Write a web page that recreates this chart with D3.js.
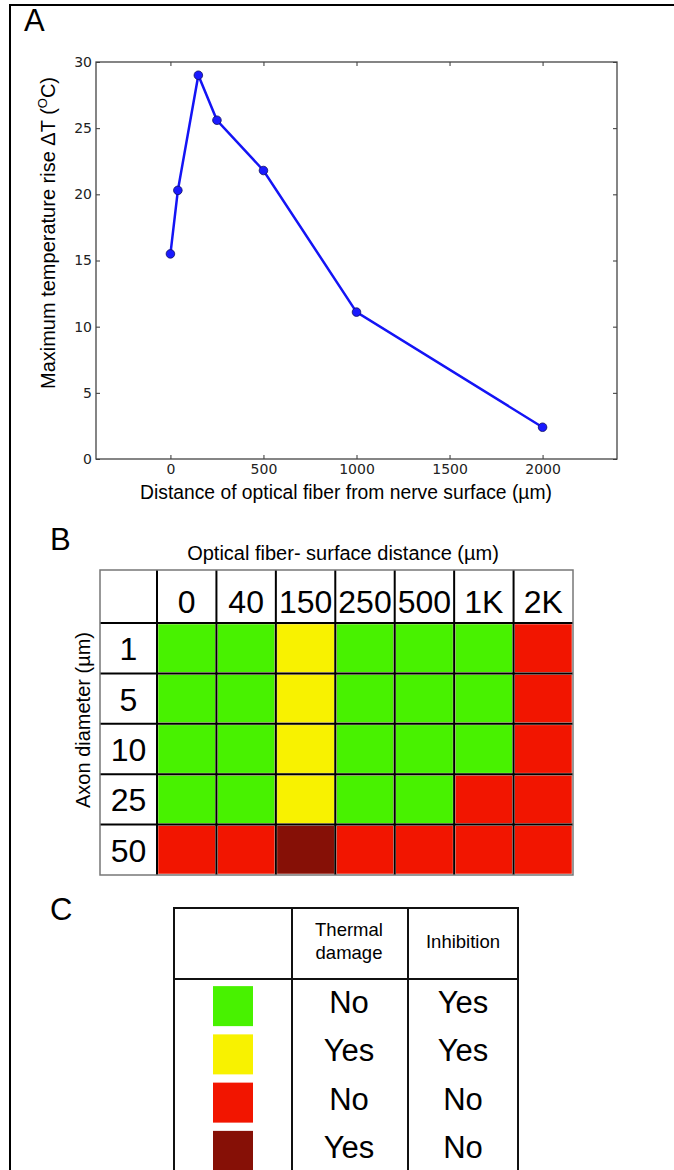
<!DOCTYPE html>
<html>
<head>
<meta charset="utf-8">
<script src="https://cdn.jsdelivr.net/npm/d3@7"></script>
<style>
  body { margin: 0; background: #fff; }
  svg { display: block; }
  .sans { font-family: "Liberation Sans", Arial, sans-serif; }
</style>
</head>
<body>
<svg id="fig" width="674" height="1170"></svg>
<script>
// panel A data
const distances = [0, 40, 150, 250, 500, 1000, 2000];
const tempRise = [15.5, 20.3, 29.0, 25.6, 21.8, 11.1, 2.4];
const xTicks = [0, 500, 1000, 1500, 2000];
const yTicks = [0, 5, 10, 15, 20, 25, 30];

// panel B data
const distLabels = ['0', '40', '150', '250', '500', '1K', '2K'];
const axonDiameters = ['1', '5', '10', '25', '50'];
// g = inhibition only, y = inhibition + damage, r = nothing, d = damage only
const outcomes = [
  ['g', 'g', 'y', 'g', 'g', 'g', 'r'],
  ['g', 'g', 'y', 'g', 'g', 'g', 'r'],
  ['g', 'g', 'y', 'g', 'g', 'g', 'r'],
  ['g', 'g', 'y', 'g', 'g', 'r', 'r'],
  ['r', 'r', 'd', 'r', 'r', 'r', 'r'],
];

// panel C data
const legendKeys = ['g', 'y', 'r', 'd'];
const thermalDamage = ['No', 'Yes', 'No', 'Yes'];
const inhibition = ['Yes', 'Yes', 'No', 'No'];

const fill = d3.scaleOrdinal()
  .domain(['g', 'y', 'r', 'd'])
  .range(['#48f200', '#f8f200', '#f21500', '#861006']);

const svg = d3.select('#fig');

// outer frame
svg.append('path')
  .attr('d', 'M10,1170 V5 H674')
  .attr('fill', 'none')
  .attr('stroke', '#000')
  .attr('stroke-width', 2);

const letter = (t, x, y) => svg.append('text')
  .attr('class', 'sans')
  .attr('x', x).attr('y', y)
  .attr('font-size', 31)
  .text(t);

// ---------- A ----------
letter('A', 24, 31);

const x = d3.scaleLinear().domain([-400, 2400]).range([96, 617]);
const y = d3.scaleLinear().domain([0, 30]).range([459, 62]);

const axisStyle = g => {
  g.attr('font-size', null).attr('font-family', null);
  g.select('.domain').remove();
  g.selectAll('.tick line').attr('stroke', '#333');
  g.selectAll('.tick text')
    .style('font-family', '"DejaVu Sans", sans-serif')
    .style('font-size', '14px')
    .attr('fill', '#222');
};

svg.append('g').attr('transform', 'translate(0,459)')
  .call(d3.axisBottom(x).tickValues(xTicks).tickSize(-4).tickPadding(5).tickFormat(d3.format('d')))
  .call(axisStyle);
svg.append('g').attr('transform', 'translate(0,62)')
  .call(d3.axisTop(x).tickValues(xTicks).tickSize(-4).tickFormat(''))
  .call(axisStyle);
svg.append('g').attr('transform', 'translate(96,0)')
  .call(d3.axisLeft(y).tickValues(yTicks).tickSize(-4).tickPadding(4))
  .call(axisStyle);
svg.append('g').attr('transform', 'translate(617,0)')
  .call(d3.axisRight(y).tickValues(yTicks).tickSize(-4).tickFormat(''))
  .call(axisStyle);

svg.append('rect')
  .attr('x', x.range()[0]).attr('y', y.range()[1])
  .attr('width', x.range()[1] - x.range()[0])
  .attr('height', y.range()[0] - y.range()[1])
  .attr('fill', 'none')
  .attr('stroke', '#444')
  .attr('stroke-width', 1.3);

const pts = distances.map((d, i) => [d, tempRise[i]]);
svg.append('path')
  .datum(pts)
  .attr('d', d3.line().x(d => x(d[0])).y(d => y(d[1])))
  .attr('fill', 'none')
  .attr('stroke', '#1414f5')
  .attr('stroke-width', 2.5);
svg.selectAll('.pt').data(pts).join('circle')
  .attr('class', 'pt')
  .attr('cx', d => x(d[0])).attr('cy', d => y(d[1]))
  .attr('r', 4.3)
  .attr('fill', '#1a1aff')
  .attr('stroke', '#101060')
  .attr('stroke-width', 0.8);

svg.append('text')
  .attr('class', 'sans')
  .attr('x', 346).attr('y', 499)
  .attr('text-anchor', 'middle')
  .attr('font-size', 19.3)
  .text('Distance of optical fiber from nerve surface (\u00b5m)');

const yl = svg.append('text')
  .attr('class', 'sans')
  .attr('transform', 'translate(55,233) rotate(-90)')
  .attr('text-anchor', 'middle')
  .attr('font-size', 20);
yl.append('tspan').text('Maximum temperature rise \u0394T (');
yl.append('tspan').attr('font-size', 13).attr('dy', -8).text('O');
yl.append('tspan').attr('dy', 8).text('C)');

// ---------- B ----------
letter('B', 50, 550);

svg.append('text')
  .attr('class', 'sans')
  .attr('x', 343).attr('y', 560)
  .attr('text-anchor', 'middle')
  .attr('font-size', 20)
  .text('Optical fiber- surface distance (\u00b5m)');

svg.append('text')
  .attr('class', 'sans')
  .attr('transform', 'translate(90,720) rotate(-90)')
  .attr('text-anchor', 'middle')
  .attr('font-size', 20)
  .text('Axon diameter (\u00b5m)');

const gridL = 100, gridT = 570, headW = 57, headH = 53;
const col = d3.scaleBand().domain(distLabels).range([gridL + headW, 573]);
const row = d3.scaleBand().domain(axonDiameters).range([gridT + headH, 875]);

const cells = outcomes.flatMap((r, i) => r.map((c, j) => ({
  d: axonDiameters[i], dist: distLabels[j], c,
})));
svg.selectAll('.cell').data(cells).join('rect')
  .attr('class', 'cell')
  .attr('x', d => col(d.dist) + 1).attr('y', d => row(d.d) + 1)
  .attr('width', col.bandwidth() - 2).attr('height', row.bandwidth() - 2)
  .attr('fill', d => fill(d.c))
  .attr('stroke', '#f6d0c8')
  .attr('stroke-width', 0.6);

svg.selectAll('.colLab').data(distLabels).join('text')
  .attr('class', 'sans colLab')
  .attr('x', d => col(d) + col.bandwidth() / 2)
  .attr('y', gridT + 43)
  .attr('text-anchor', 'middle')
  .attr('font-size', 32)
  .text(d => d);

svg.selectAll('.rowLab').data(axonDiameters).join('text')
  .attr('class', 'sans rowLab')
  .attr('x', gridL + headW / 2)
  .attr('y', d => row(d) + row.bandwidth() / 2 + 12)
  .attr('text-anchor', 'middle')
  .attr('font-size', 32)
  .text(d => d);

// grid lines
const colEdges = distLabels.map(d => col(d));
svg.selectAll('.vline').data(colEdges).join('line')
  .attr('class', 'vline')
  .attr('x1', d => d).attr('x2', d => d)
  .attr('y1', gridT).attr('y2', 875)
  .attr('stroke', '#000').attr('stroke-width', 2);
const rowEdges = axonDiameters.map(d => row(d));
svg.selectAll('.hline').data(rowEdges).join('line')
  .attr('class', 'hline')
  .attr('x1', gridL).attr('x2', 573)
  .attr('y1', d => d).attr('y2', d => d)
  .attr('stroke', '#000').attr('stroke-width', 2);
svg.append('rect')
  .attr('x', gridL).attr('y', gridT)
  .attr('width', 573 - gridL).attr('height', 875 - gridT)
  .attr('fill', 'none')
  .attr('stroke', '#777').attr('stroke-width', 1.5);

// ---------- C ----------
letter('C', 50, 920);

const legL = 174, legT = 908, legR = 518, legHead = 979;
const legCols = [legL, 292, 408, legR];
const legRow = d3.scaleBand().domain(legendKeys).range([legHead + 3, 1175]);

svg.selectAll('.sw').data(legendKeys).join('rect')
  .attr('class', 'sw')
  .attr('x', 213).attr('y', d => legRow(d) + (legRow.bandwidth() - 40) / 2)
  .attr('width', 40).attr('height', 40)
  .attr('fill', d => fill(d));

const cellText = (vals, cx) => svg.selectAll(null).data(vals).join('text')
  .attr('class', 'sans')
  .attr('x', cx)
  .attr('y', (d, i) => legRow(legendKeys[i]) + legRow.bandwidth() / 2 + 7)
  .attr('text-anchor', 'middle')
  .attr('font-size', 31)
  .text(d => d);
cellText(thermalDamage, 349);
cellText(inhibition, 463);

svg.append('text')
  .attr('class', 'sans')
  .attr('x', 349).attr('text-anchor', 'middle').attr('font-size', 18.5)
  .selectAll('tspan').data(['Thermal', 'damage']).join('tspan')
  .attr('x', 349).attr('y', (d, i) => 936 + i * 23)
  .text(d => d);
svg.append('text')
  .attr('class', 'sans')
  .attr('x', 463).attr('y', 948)
  .attr('text-anchor', 'middle').attr('font-size', 18.5)
  .text('Inhibition');

svg.selectAll('.lv').data(legCols).join('line')
  .attr('class', 'lv')
  .attr('x1', d => d).attr('x2', d => d)
  .attr('y1', legT - 1).attr('y2', 1172)
  .attr('stroke', '#111').attr('stroke-width', 2);
svg.selectAll('.lh').data([legT, legHead]).join('line')
  .attr('class', 'lh')
  .attr('x1', legL).attr('x2', legR)
  .attr('y1', d => d).attr('y2', d => d)
  .attr('stroke', '#111').attr('stroke-width', 2);
</script>
</body>
</html>
